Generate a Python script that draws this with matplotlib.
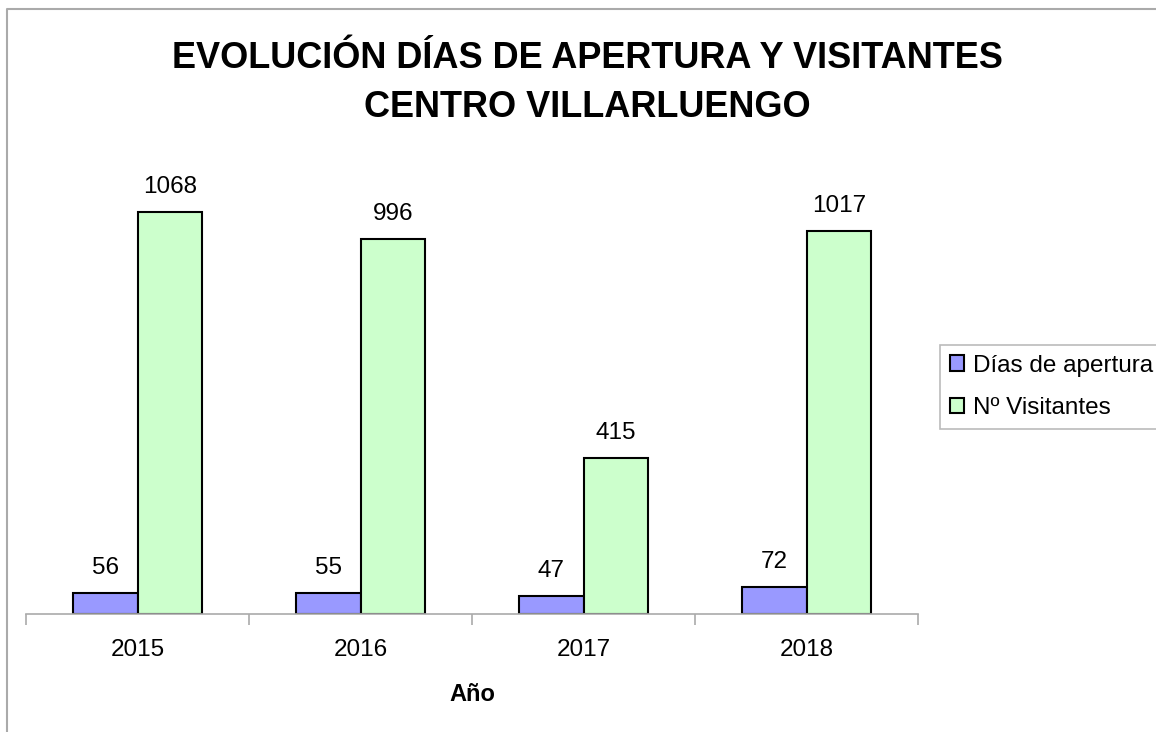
import numpy as np
import matplotlib.pyplot as plt
from matplotlib.lines import Line2D

# Data
years = ["2015", "2016", "2017", "2018"]
dias = [56, 55, 47, 72]
visitantes = [1068, 996, 415, 1017]

plt.rcParams['font.family'] = ['Liberation Sans', 'DejaVu Sans']

W, H = 1156, 732
fig = plt.figure(figsize=(W / 100, H / 100), dpi=100)

# axes placed in pixel terms
left, right, base, top = 26, 918, 614, 130
ax = fig.add_axes([left / W, (H - base) / H, (right - left) / W, (base - top) / H])

x = np.arange(len(years))
w = 0.29
b1 = ax.bar(x - w / 2, dias, w, color="#9999ff", edgecolor="black", linewidth=1.5,
            label="Días de apertura")
b2 = ax.bar(x + w / 2, visitantes, w, color="#ccffcc", edgecolor="black", linewidth=1.5,
            label="Nº Visitantes")

for bars, vals in ((b1, dias), (b2, visitantes)):
    for r, v in zip(bars, vals):
        ax.annotate(str(v), (r.get_x() + r.get_width() / 2, v), xytext=(0, 10),
                    textcoords="offset points", ha="center", va="bottom", fontsize=17.5)

ax.set_xlim(-0.5, len(years) - 0.5)
ax.set_ylim(0, (base - top) / (402 / 1068))
ax.set_yticks([])
ax.set_xticks(x)
ax.set_xticklabels(years, fontsize=17.5)
ax.tick_params(axis="x", which="major", length=0, pad=18)
ax.set_xticks(np.arange(len(years) + 1) - 0.5, minor=True)
ax.tick_params(axis="x", which="minor", length=8, color="#aaaaaa", width=1.2)
for s in ("left", "top", "right"):
    ax.spines[s].set_visible(False)
ax.spines["bottom"].set_color("#aaaaaa")
ax.spines["bottom"].set_linewidth(1.2)
ax.set_xlabel("Año", fontsize=17, fontweight="bold", labelpad=16)

fig.text(587 / W, 1 - 83 / H, "EVOLUCIÓN DÍAS DE APERTURA Y VISITANTES\nCENTRO VILLARLUENGO",
         ha="center", va="center", fontsize=26, fontweight="bold", linespacing=1.5)

leg = ax.legend(loc="center left", bbox_to_anchor=(940 / W, 1 - 387 / H),
                bbox_transform=fig.transFigure, fontsize=17.5, frameon=True, fancybox=False,
                handlelength=0.6, handleheight=0.6, handletextpad=0.35, borderpad=0.4,
                labelspacing=0.85, borderaxespad=0)
leg.get_frame().set_edgecolor("#aaaaaa")
leg.get_frame().set_linewidth(1.2)

# outer chart frame
fig.add_artist(Line2D([7 / W, 7 / W, 1.0], [0, 1 - 9 / H, 1 - 9 / H],
                      transform=fig.transFigure, color="#aaaaaa", linewidth=1.5))

fig.savefig("out.png", dpi=100)
